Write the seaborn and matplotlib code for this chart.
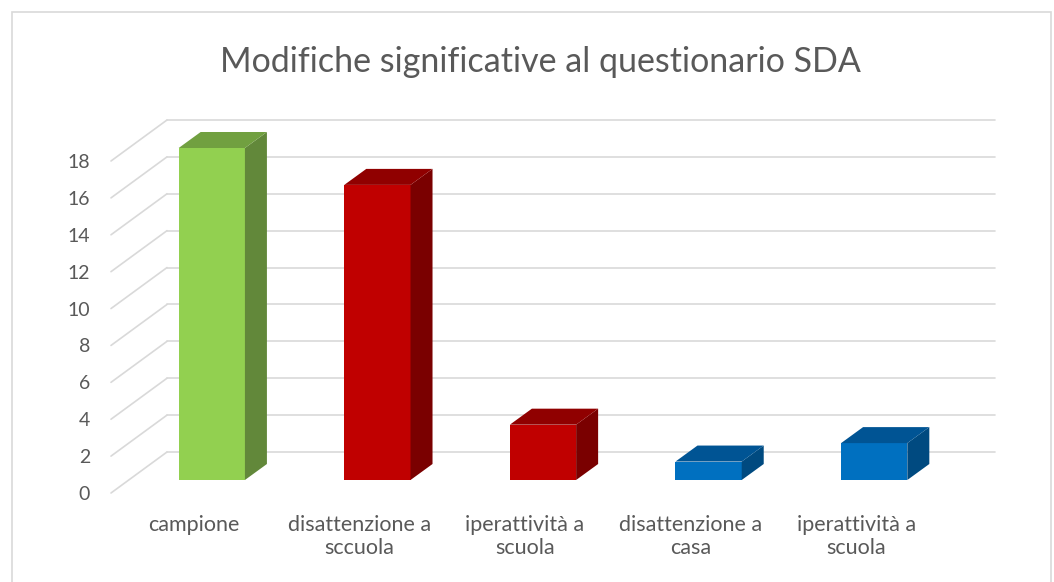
import matplotlib
matplotlib.use("Agg")
import matplotlib.pyplot as plt
from matplotlib.patches import Polygon, Rectangle
import seaborn as sns

categorie = ["campione", "disattenzione a\nsccuola", "iperattività a\nscuola",
             "disattenzione a\ncasa", "iperattività a\nscuola"]
valori = [18, 16, 3, 1, 2]
colori_fronte = ["#92D050", "#C00000", "#C00000", "#0070C0", "#0070C0"]
colori_lato = ["#62883A", "#7A0000", "#7A0000", "#004A80", "#004A80"]
colori_sopra = ["#71A040", "#900000", "#900000", "#005494", "#005494"]
tick_y = list(range(0, 19, 2))
titolo = "Modifiche significative al questionario SDA"

sns.set_style("white")
plt.rcParams['font.family'] = ['Lato', 'DejaVu Sans']

fig = plt.figure(figsize=(10.54, 5.82), dpi=100)
ax = fig.add_axes([111 / 1054, 89 / 582, 828 / 1054, 332 / 582])

# pixel per unita' dati
sx = 828 / 5
sy = 332 / 18

idx = list(range(len(valori)))
sns.barplot(x=idx, y=valori, hue=idx, palette=colori_fronte, width=0.4,
            legend=False, ax=ax, saturation=1, linewidth=0, zorder=3)
ax.set_xlim(-0.5, 4.5)
ax.set_ylim(0, 18)

# finto 3D: piano barre, profondita' barre, parete di fondo
bx, by = 18 / sx, 13 / sy
dx, dy = 22 / sx, 16 / sy
wx, wy = 56 / sx, 41 / sy

for i, p in enumerate(ax.patches):
    p.set_x(p.get_x() + bx)
    p.set_y(by)
    p.set_clip_on(False)
    x0, w, h = p.get_x(), p.get_width(), p.get_height()
    y0 = by
    lato = Polygon([(x0 + w, y0), (x0 + w + dx, y0 + dy), (x0 + w + dx, y0 + h + dy), (x0 + w, y0 + h)],
                   closed=True, facecolor=colori_lato[i], edgecolor='none', zorder=3, clip_on=False)
    sopra = Polygon([(x0, y0 + h), (x0 + w, y0 + h), (x0 + w + dx, y0 + h + dy), (x0 + dx, y0 + h + dy)],
                    closed=True, facecolor=colori_sopra[i], edgecolor='none', zorder=3, clip_on=False)
    ax.add_patch(lato)
    ax.add_patch(sopra)

for v in tick_y:
    ax.plot([-0.5 + wx, 4.5 + wx], [v + wy, v + wy], color='#d9d9d9', lw=1.2, zorder=0, clip_on=False)
    ax.plot([-0.5, -0.5 + wx], [v, v + wy], color='#d9d9d9', lw=1.2, zorder=0, clip_on=False)

ax.set_facecolor('none')
for s in ax.spines.values():
    s.set_visible(False)
ax.set_yticks(tick_y)
ax.set_xticks(idx, categorie)
ax.set_xlabel('')
ax.set_ylabel('')
ax.tick_params(axis='y', length=0, pad=15, labelsize=14, labelcolor='#595959')
ax.tick_params(axis='x', length=0, pad=16, labelsize=15.5, labelcolor='#595959')
for t in ax.get_xticklabels():
    t.set_linespacing(1.2)

fig.text(540 / 1054, 1 - 62 / 582, titolo, ha='center', va='center', fontsize=24.5, color='#595959')
fig.add_artist(Rectangle((12 / 1054, -0.05), (1051 - 12) / 1054, 1.05 - 12 / 582,
                         transform=fig.transFigure, fill=False, edgecolor='#d9d9d9', lw=1.2))

fig.savefig('out.png', dpi=100)
